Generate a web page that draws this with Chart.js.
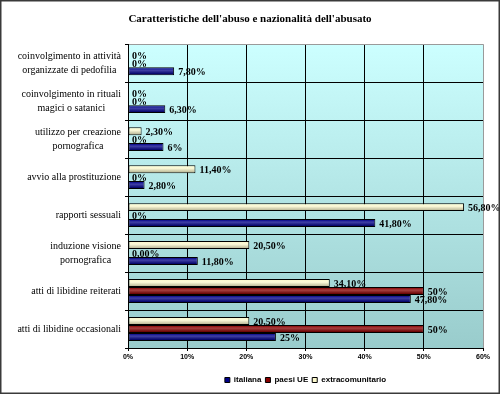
<!DOCTYPE html>
<html>
<head>
<meta charset="utf-8">
<script src="https://cdn.jsdelivr.net/npm/chart.js@4.4.0/dist/chart.umd.min.js"></script>
<style>
  html, body { margin: 0; padding: 0; background: #fff; }
</style>
</head>
<body>
<canvas id="abuseChart" width="500" height="394"></canvas>
<script>
// categorie (dall'alto in basso)
const categories = [
  ['coinvolgimento in attività', 'organizzate di pedofilia'],
  ['coinvolgimento in rituali', 'magici o satanici'],
  ['utilizzo per creazione', 'pornografica'],
  ['avvio alla prostituzione'],
  ['rapporti sessuali'],
  ['induzione visione', 'pornografica'],
  ['atti di libidine reiterati'],
  ['atti di libidine occasionali']
];

// valori in %
const italiana = [7.8, 6.3, 6, 2.8, 41.8, 11.8, 47.8, 25];
const paesiUE = [0, 0, 0, 0, 0, 0, 50, 50];
const extracomunitario = [0, 0, 2.3, 11.4, 56.8, 20.5, 34.1, 20.5];

// etichette come nel grafico originale
const italianaLabels = ['7,80%', '6,30%', '6%', '2,80%', '41,80%', '11,80%', '47,80%', '25%'];
const paesiUELabels = ['0%', '0%', '0%', '0%', '0%', '0,00%', '50%', '50%'];
const extraLabels = ['0%', '0%', '2,30%', '11,40%', '56,80%', '20,50%', '34,10%', '20,50%'];

const xMin = 0, xMax = 60, xStep = 10;

// sfondo area grafico + cornice
const background = {
  id: 'background',
  beforeDraw(chart) {
    const { ctx, chartArea: a } = chart;
    ctx.save();
    ctx.fillStyle = '#fff';
    ctx.fillRect(0, 0, chart.width, chart.height);
    const g = ctx.createLinearGradient(0, a.top, 0, a.bottom);
    g.addColorStop(0, '#ccffff');
    g.addColorStop(1, '#99cccc');
    ctx.fillStyle = g;
    ctx.fillRect(a.left, a.top, a.right - a.left, a.bottom - a.top);
    ctx.restore();
  },
  afterDraw(chart) {
    const ctx = chart.ctx;
    ctx.save();
    ctx.strokeStyle = '#3a3a3a';
    ctx.lineWidth = 1.5;
    ctx.strokeRect(0.75, 0.75, chart.width - 1.5, chart.height - 1.5);
    ctx.restore();
  }
};

// effetto cilindro sulle barre
const barShine = {
  id: 'barShine',
  afterDatasetsDraw(chart) {
    const ctx = chart.ctx;
    ctx.save();
    chart.data.datasets.forEach((ds, di) => {
      chart.getDatasetMeta(di).data.forEach(bar => {
        const w = bar.x - bar.base;
        if (w < 3) return;
        const top = bar.y - bar.height / 2 + 1;
        const h = bar.height - 2;
        const g = ctx.createLinearGradient(0, top, 0, top + h);
        g.addColorStop(0, 'rgba(255,255,255,0.05)');
        g.addColorStop(0.35, 'rgba(255,255,255,0.25)');
        g.addColorStop(1, 'rgba(0,0,0,0.25)');
        ctx.fillStyle = g;
        ctx.fillRect(bar.base + 1, top, w - 2, h);
      });
    });
    ctx.restore();
  }
};

// etichette dei valori
const valueLabels = {
  id: 'valueLabels',
  afterDatasetsDraw(chart) {
    const ctx = chart.ctx;
    ctx.save();
    ctx.font = 'bold 10px "Liberation Serif"';
    ctx.fillStyle = '#000';
    ctx.textBaseline = 'middle';
    chart.data.datasets.forEach((ds, di) => {
      chart.getDatasetMeta(di).data.forEach((bar, i) => {
        ctx.fillText(ds.valueLabels[i], bar.x + 4, bar.y + 1);
      });
    });
    ctx.restore();
  }
};

// etichette categorie (centrate, blocco allineato a destra)
const categoryLabels = {
  id: 'categoryLabels',
  afterDraw(chart) {
    const ctx = chart.ctx;
    const y = chart.scales.y;
    ctx.save();
    ctx.font = '10px "Liberation Serif"';
    ctx.fillStyle = '#000';
    ctx.textAlign = 'center';
    ctx.textBaseline = 'middle';
    const right = y.right - 7;
    categories.forEach((lines, i) => {
      const w = Math.max(...lines.map(l => ctx.measureText(l).width));
      const cy = y.getPixelForValue(i);
      lines.forEach((line, k) => {
        ctx.fillText(line, right - w / 2, cy + (k - (lines.length - 1) / 2) * 14);
      });
    });
    ctx.restore();
  }
};

new Chart(document.getElementById('abuseChart'), {
  type: 'bar',
  data: {
    labels: categories,
    datasets: [
      {
        label: 'extracomunitario',
        data: extracomunitario,
        valueLabels: extraLabels,
        backgroundColor: '#fbf8cc',
        borderColor: '#000',
        borderWidth: 1,
        borderSkipped: false
      },
      {
        label: 'paesi UE',
        data: paesiUE,
        valueLabels: paesiUELabels,
        backgroundColor: '#880000',
        borderColor: '#000',
        borderWidth: 1,
        borderSkipped: false
      },
      {
        label: 'italiana',
        data: italiana,
        valueLabels: italianaLabels,
        backgroundColor: '#000088',
        borderColor: '#000',
        borderWidth: 1,
        borderSkipped: false
      }
    ]
  },
  options: {
    indexAxis: 'y',
    responsive: false,
    animation: false,
    devicePixelRatio: 1,
    categoryPercentage: 0.63,
    barPercentage: 1,
    layout: { padding: { left: 17, right: 17, top: 0, bottom: 0 } },
    plugins: {
      title: {
        display: true,
        text: "Caratteristiche dell'abuso e nazionalità dell'abusato",
        color: '#000',
        font: { family: '"Liberation Serif"', size: 11, weight: 'bold' },
        padding: { top: 13, bottom: 18 }
      },
      legend: {
        position: 'bottom',
        fullSize: false,
        reverse: true,
        labels: {
          boxWidth: 5,
          boxHeight: 5,
          padding: 4,
          color: '#000',
          font: { family: '"Liberation Sans"', size: 8, weight: 'bold' }
        }
      },
      tooltip: { enabled: false }
    },
    scales: {
      x: {
        min: xMin,
        max: xMax,
        ticks: {
          stepSize: xStep,
          padding: 2,
          color: '#000',
          font: { family: '"Liberation Sans"', size: 7, weight: 'bold' },
          callback: value => value + '%'
        },
        grid: {
          color: c => (c.tick && c.tick.value === xMax ? '#9a9a9a' : '#000'),
          tickLength: 3,
          tickColor: '#000'
        },
        border: { color: '#000' },
        afterFit: scale => { scale.height = 24; }
      },
      y: {
        ticks: { display: false },
        grid: {
          color: c => (c.index === 0 ? '#9a9a9a' : '#000'),
          tickLength: 3,
          tickColor: '#000'
        },
        border: { color: '#000' },
        afterFit: scale => { scale.width = 111; }
      }
    }
  },
  plugins: [background, barShine, valueLabels, categoryLabels]
});
</script>
</body>
</html>
